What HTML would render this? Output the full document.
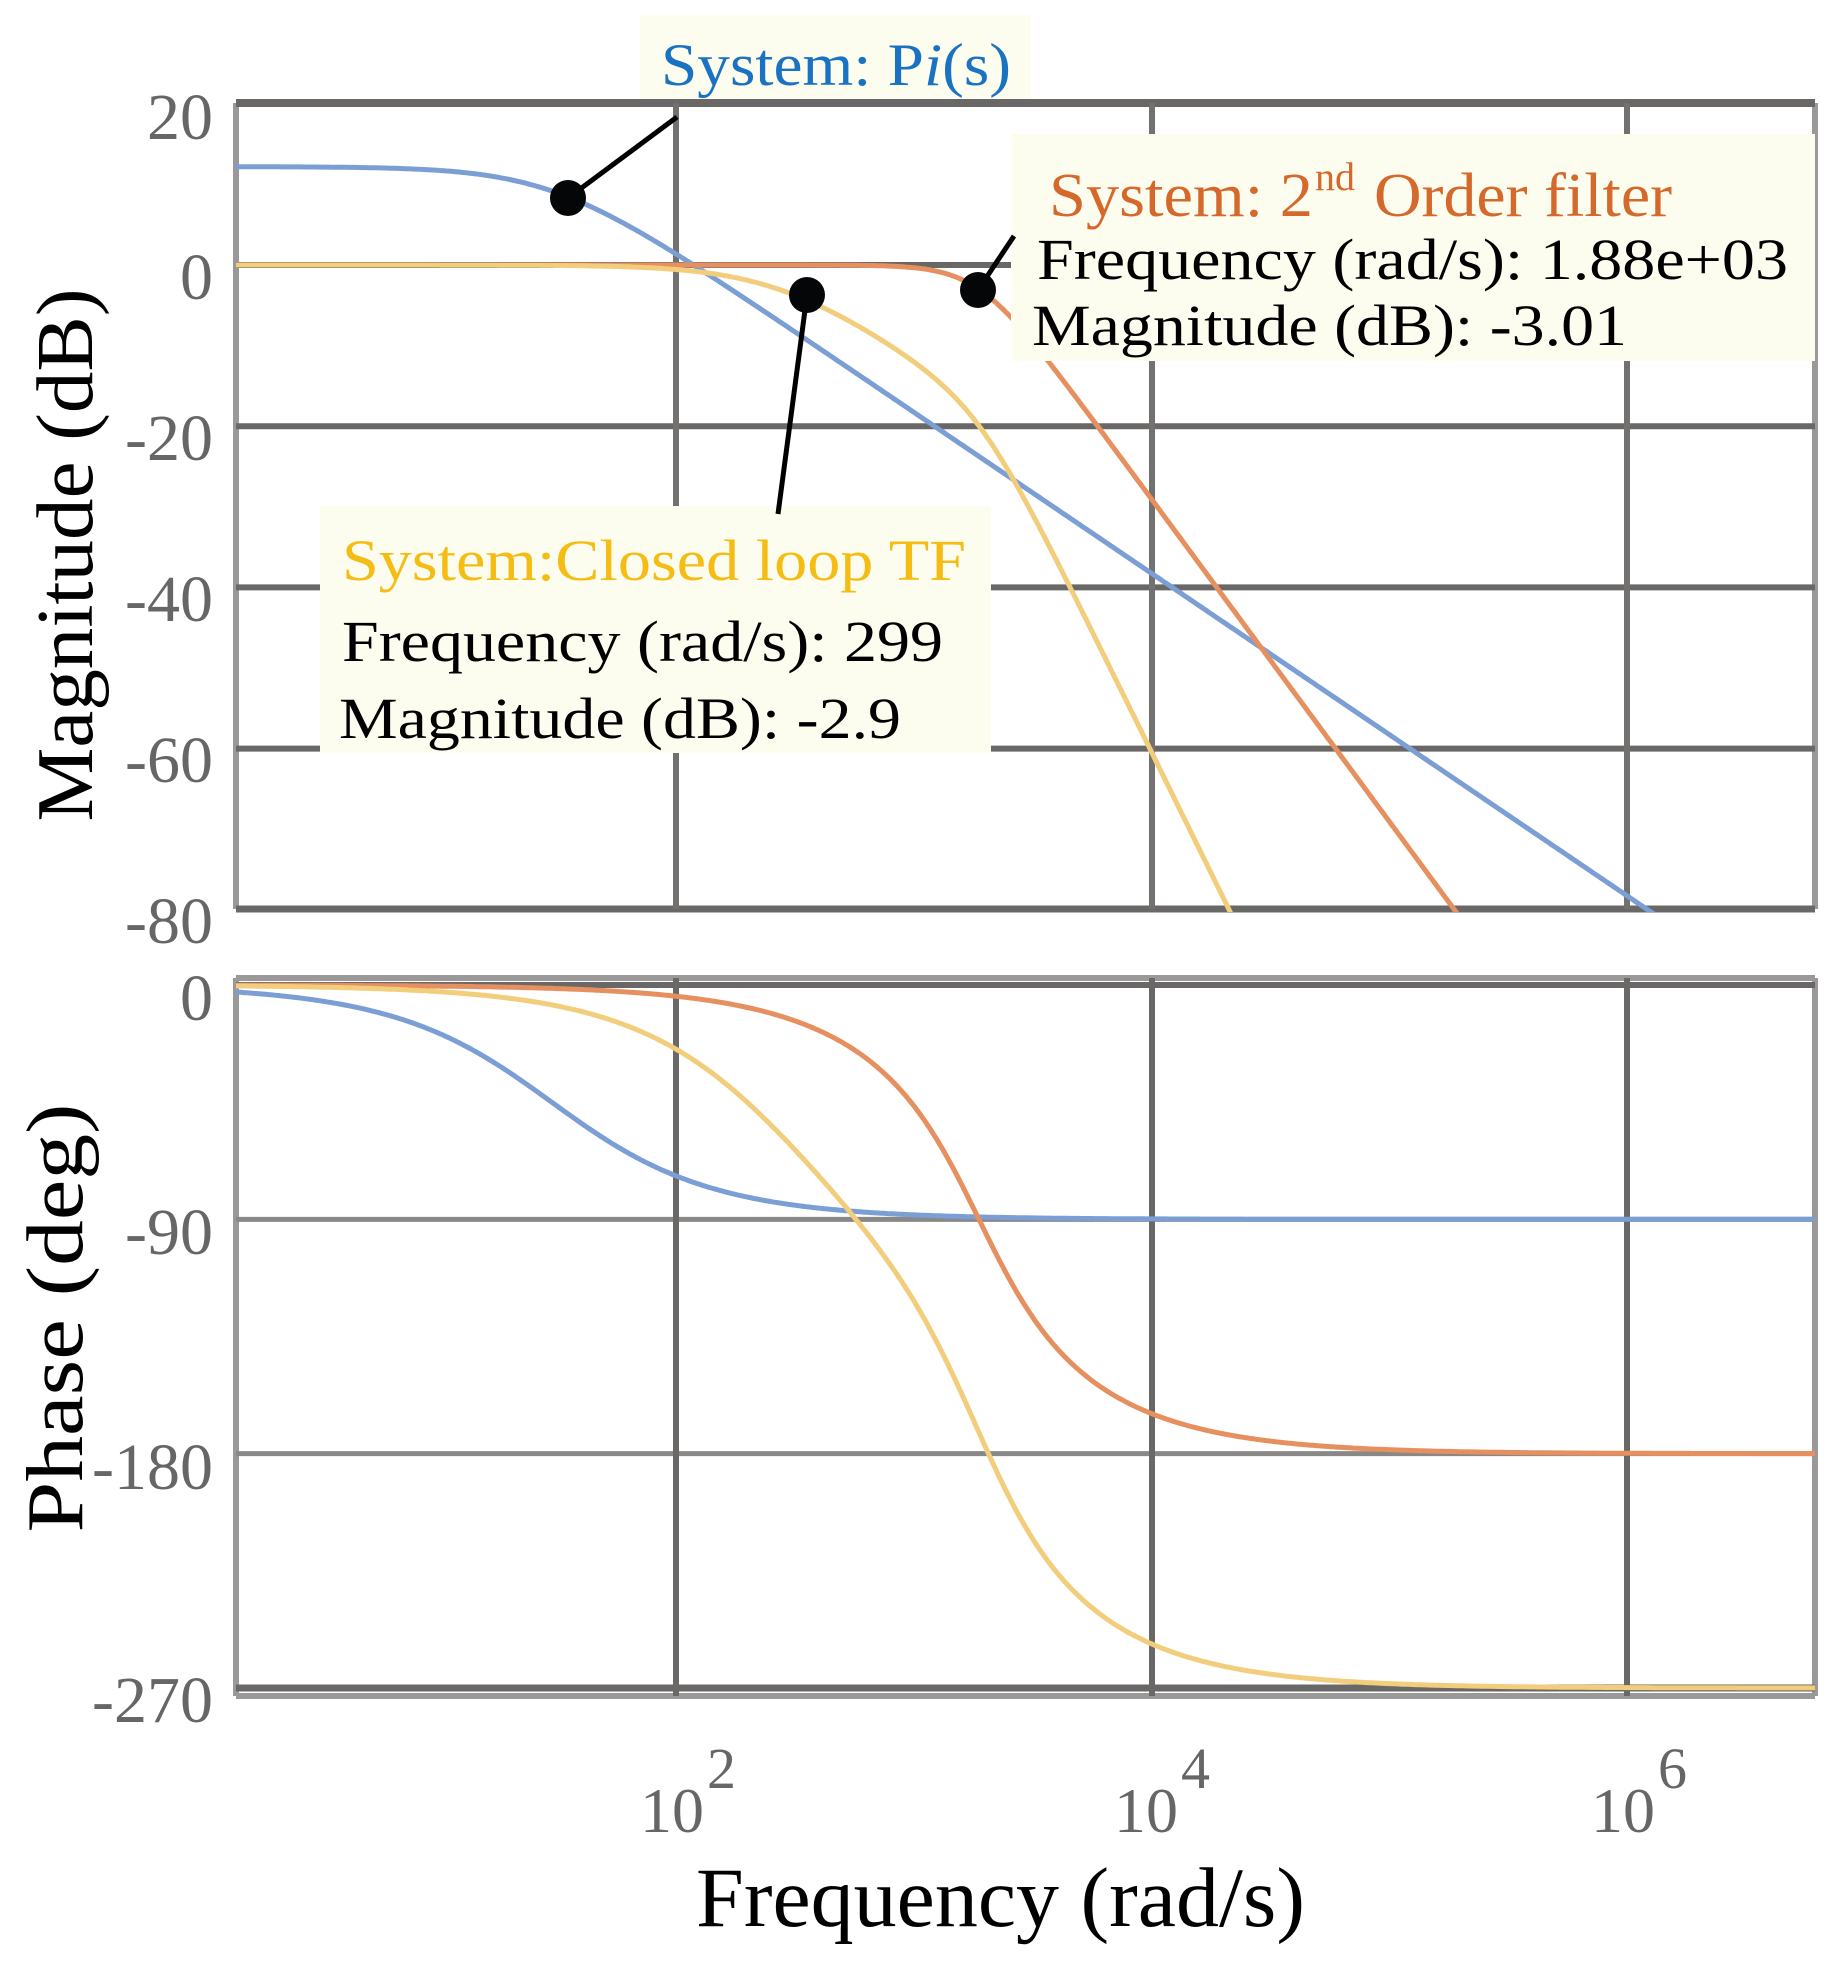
<!DOCTYPE html>
<html><head><meta charset="utf-8"><style>
html,body{margin:0;padding:0;background:#fff}
svg{display:block}
text{font-family:"Liberation Serif",serif}
</style></head><body>
<svg id="s" width="1839" height="1967" viewBox="0 0 1839 1967" xmlns="http://www.w3.org/2000/svg">
<defs>
<clipPath id="cm"><rect x="236" y="100" width="1579" height="812"/></clipPath>
<clipPath id="cp"><rect x="236" y="978" width="1579" height="715"/></clipPath>
</defs>
<g id="grid"></g>
<g id="curves"></g>
<g fill="#666" font-size="66" text-anchor="end">
<text x="213" y="139">20</text>
<text x="213" y="299">0</text>
<text x="213" y="460">-20</text>
<text x="213" y="621">-40</text>
<text x="213" y="782">-60</text>
<text x="213" y="943">-80</text>
<text x="213" y="1020">0</text>
<text x="213" y="1254">-90</text>
<text x="213" y="1489">-180</text>
<text x="213" y="1722">-270</text>
</g>
<g fill="#666" font-size="64">
<text x="640" y="1832">10</text><text x="707" y="1788" font-size="58">2</text>
<text x="1114" y="1832">10</text><text x="1181" y="1788" font-size="58">4</text>
<text x="1591" y="1832">10</text><text x="1658" y="1788" font-size="58">6</text>
</g>
<text x="696" y="1926" font-size="85" fill="#000" textLength="609" lengthAdjust="spacingAndGlyphs">Frequency  (rad/s)</text>
<text transform="translate(92,555) rotate(-90)" text-anchor="middle" font-size="80" fill="#000" textLength="533" lengthAdjust="spacingAndGlyphs">Magnitude (dB)</text>
<text transform="translate(82,1318) rotate(-90)" text-anchor="middle" font-size="80" fill="#000" textLength="429" lengthAdjust="spacingAndGlyphs">Phase (deg)</text>
<rect x="640" y="15" width="391" height="83" fill="#fcfcef"/>
<rect x="1011" y="134" width="804" height="227" fill="#fcfcef"/>
<rect x="320" y="506" width="671" height="247" fill="#fcfcef"/>
<text x="661" y="85" font-size="60" fill="#1a72c2" textLength="350" lengthAdjust="spacingAndGlyphs">System: P<tspan font-style="italic">i</tspan>(s)</text>
<text x="1049" y="216" font-size="62" fill="#d5692b" textLength="264" lengthAdjust="spacingAndGlyphs">System: 2</text>
<text x="1315" y="190" font-size="40" fill="#d5692b">nd</text>
<text x="1374" y="216" font-size="62" fill="#d5692b" textLength="298" lengthAdjust="spacingAndGlyphs">Order filter</text>
<text x="1037" y="279" font-size="58" fill="#000" textLength="751" lengthAdjust="spacingAndGlyphs">Frequency (rad/s): 1.88e+03</text>
<text x="1032" y="345" font-size="58" fill="#000" textLength="595" lengthAdjust="spacingAndGlyphs">Magnitude (dB): -3.01</text>
<text x="342" y="580" font-size="58" fill="#f5bc14" textLength="624" lengthAdjust="spacingAndGlyphs">System:Closed loop TF</text>
<text x="342" y="661" font-size="58" fill="#000" textLength="601" lengthAdjust="spacingAndGlyphs">Frequency (rad/s): 299</text>
<text x="339" y="738" font-size="58" fill="#000" textLength="562" lengthAdjust="spacingAndGlyphs">Magnitude (dB): -2.9</text>
<g stroke="#000" stroke-width="5">
<line x1="568" y1="198" x2="677" y2="117"/>
<line x1="807" y1="295" x2="778" y2="514"/>
<line x1="978" y1="290" x2="1014" y2="236"/>
</g>
<g fill="#050608">
<circle cx="568" cy="198" r="18"/>
<circle cx="807" cy="295" r="18"/>
<circle cx="978" cy="290" r="18"/>
</g>
</svg>
<script>
(function(){
var NS="http://www.w3.org/2000/svg";
function X(w){return 676+(Math.log10(w)-2)*237.75;}
function YM(d){return 265-d*8.06;}
function YP(p){return 985-p*(703/270);}
var g=document.getElementById('grid'),c=document.getElementById('curves');
function L(par,x1,y1,x2,y2,col,w){var l=document.createElementNS(NS,'line');l.setAttribute('x1',x1);l.setAttribute('y1',y1);l.setAttribute('x2',x2);l.setAttribute('y2',y2);l.setAttribute('stroke',col);l.setAttribute('stroke-width',w);par.appendChild(l);}
L(g,236,103,236,909,'#9a9898',6);L(g,1815,103,1815,909,'#9a9898',6);
[0,-20,-40,-60].forEach(function(d){L(g,236,YM(d),1815,YM(d),'#6a6767',6);});
L(g,236,103,1815,103,'#6a6767',8);L(g,236,909,1815,909,'#6a6767',7);
[676,1152,1627].forEach(function(x){L(g,x,103,x,909,'#737070',6);});
L(g,236,978,236,1696,'#9a9898',6);L(g,1815,978,1815,1696,'#9a9898',6);
L(g,236,978,1815,978,'#9a9898',6);L(g,236,1696,1815,1696,'#9a9898',6);
L(g,236,985,1815,985,'#6a6767',6);L(g,236,1688,1815,1688,'#6a6767',7);
[-90,-180].forEach(function(p){L(g,236,YP(p),1815,YP(p),'#8a8787',5);});
[676,1152,1627].forEach(function(x){L(g,x,978,x,1696,'#6a6767',6);});
var K=12.2;
function blue(w){return [K-10*Math.log10(1+(w/30)*(w/30)), -Math.atan(w/30)*180/Math.PI];}
var wn=1880,z=0.7071;
function so(w){var re=wn*wn-w*w,im=2*z*wn*w;var m=wn*wn/Math.sqrt(re*re+im*im);var ph=-Math.atan2(im,re)*180/Math.PI;return [20*Math.log10(m),ph];}
var wa=270;
function yel(w){var f=so(w);return [f[0]-10*Math.log10(1+(w/wa)*(w/wa)), f[1]-Math.atan(w/wa)*180/Math.PI];}
function draw(fn,col){
 var dm='',dp='';
 for(var i=0;i<=700;i++){var lw=0.14+i*(6.8-0.14)/700;var w=Math.pow(10,lw);var r=fn(w);var x=X(w).toFixed(1);
  var ym=YM(r[0]);if(ym>1000)ym=1000;
  dm+=(i?'L':'M')+x+' '+ym.toFixed(1);dp+=(i?'L':'M')+x+' '+YP(r[1]).toFixed(1);}
 [[dm,'cm'],[dp,'cp']].forEach(function(a){var p=document.createElementNS(NS,'path');p.setAttribute('d',a[0]);p.setAttribute('fill','none');p.setAttribute('stroke',col);p.setAttribute('stroke-width',5);p.setAttribute('clip-path','url(#'+a[1]+')');c.appendChild(p);});
}
draw(blue,'#7b9fd5');
draw(so,'#e6905f');
draw(yel,'#f2cd7c');
})();
</script>
</body></html>
